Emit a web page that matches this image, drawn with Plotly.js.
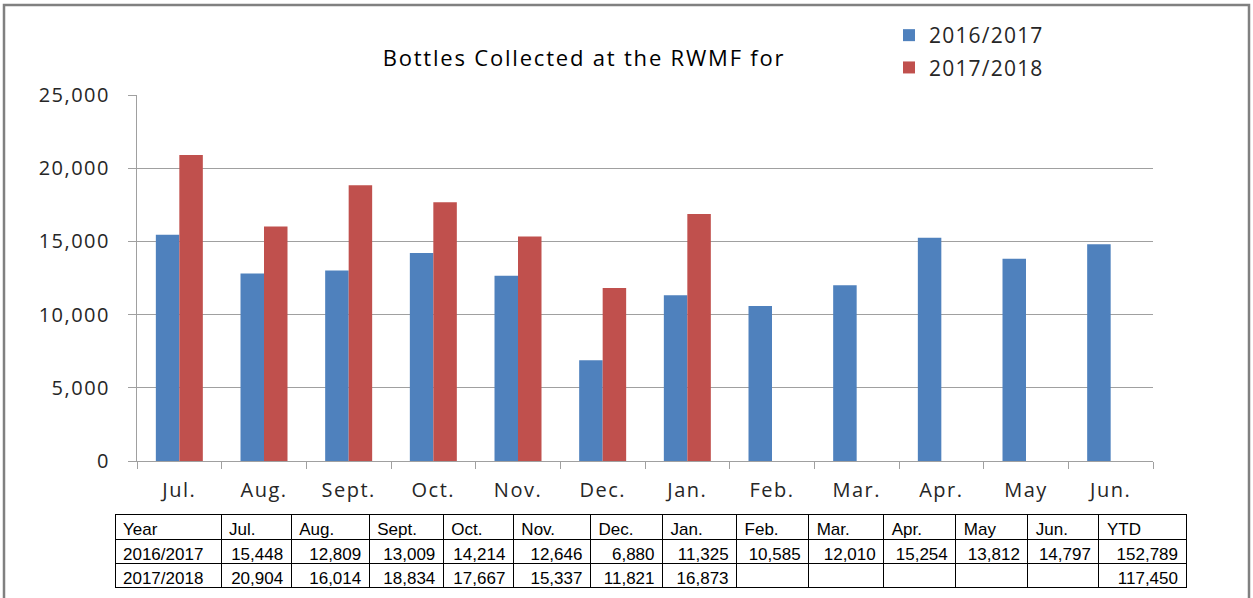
<!DOCTYPE html>
<html>
<head>
<meta charset="utf-8">
<script src="https://cdn.plot.ly/plotly-3.0.1.min.js"></script>
<style>
html,body{margin:0;padding:0;background:#fff;}
#chart{width:1253px;height:598px;}
.gtitle{letter-spacing:1.8px;}
g.xtick text, g.ytick text{letter-spacing:1.5px;}
.legendtext{letter-spacing:1.2px;}
</style>
</head>
<body>
<div id="chart"></div>
<script>
const months = ['Jul.', 'Aug.', 'Sept.', 'Oct.', 'Nov.', 'Dec.', 'Jan.', 'Feb.', 'Mar.', 'Apr.', 'May', 'Jun.'];
const seriesNames = ['2016/2017', '2017/2018'];
const values1617 = [15448, 12809, 13009, 14214, 12646, 6880, 11325, 10585, 12010, 15254, 13812, 14797];
const values1718 = [20904, 16014, 18834, 17667, 15337, 11821, 16873];
const ytd = [152789, 117450];
const yTicks = [0, 5000, 10000, 15000, 20000, 25000];
const yTickLabels = ['0', '5,000', '10,000', '15,000', '20,000', '25,000'];
const chartTitle = 'Bottles Collected at the RWMF for';

const W = 1253, H = 598;
const px = x => x / W;
const py = y => (H - y) / H;

const fmt = v => (v === undefined || v === null) ? '' : v.toLocaleString('en-US');

const headerVals = ['Year'].concat(months).concat(['YTD']);
const cellCols = [seriesNames];
months.forEach((m, i) => cellCols.push([fmt(values1617[i]), fmt(values1718[i])]));
cellCols.push([fmt(ytd[0]), fmt(ytd[1])]);

const colWidths = [106, 70, 78, 74, 70, 77, 72, 74, 72, 75, 72, 72, 71, 87];
const cellAlign = ['left'].concat(months.map(() => 'right')).concat(['right']);

const tableFont = {family: 'Liberation Sans, Arial, sans-serif', size: 17, color: '#000'};
const axisFont = {family: 'Open Sans, sans-serif', size: 20, color: '#262626'};

const data = [
  {type: 'bar', name: seriesNames[0], legendgroup: 'a', x: months, y: values1617, marker: {color: '#4F81BD'}, hoverinfo: 'x+y'},
  {type: 'bar', name: seriesNames[1], legendgroup: 'b', x: months.slice(0, values1718.length), y: values1718, marker: {color: '#C0504D'}, hoverinfo: 'x+y'},
  {
    type: 'table',
    domain: {x: [px(115), px(1186)], y: [0, py(514)]},
    columnwidth: colWidths,
    header: {
      values: headerVals,
      align: 'left',
      height: 25,
      font: tableFont,
      fill: {color: '#fff'},
      line: {color: '#000', width: 1}
    },
    cells: {
      values: cellCols,
      align: cellAlign,
      height: 24,
      font: tableFont,
      fill: {color: '#fff'},
      line: {color: '#000', width: 1}
    }
  }
];

const layout = {
  width: W, height: H, autosize: false,
  margin: {l: 0, r: 0, t: 0, b: 0},
  paper_bgcolor: '#fff', plot_bgcolor: '#fff',
  barmode: 'group', bargap: 0.445, bargroupgap: 0,
  title: {text: chartTitle, x: px(584), xanchor: 'center', y: py(58), yanchor: 'middle', font: {family: 'Open Sans, sans-serif', size: 22, color: '#000'}},
  showlegend: true,
  legend: {x: px(889), xanchor: 'left', y: py(15), yanchor: 'top', tracegroupgap: 2, font: {family: 'Open Sans, sans-serif', size: 21, color: '#262626'}, bgcolor: 'rgba(0,0,0,0)', traceorder: 'grouped'},
  xaxis: {
    domain: [px(137), px(1153)],
    type: 'category',
    showline: true, linecolor: '#A0A0A0', linewidth: 1,
    ticks: 'outside', tickson: 'boundaries', ticklen: 7, tickcolor: '#A0A0A0',
    tickfont: axisFont, ticklabelstandoff: 11,
    showgrid: false, fixedrange: true
  },
  yaxis: {
    domain: [py(461), py(95)],
    range: [0, 25000],
    tickvals: yTicks, ticktext: yTickLabels,
    showline: true, linecolor: '#A0A0A0', linewidth: 1,
    ticks: 'outside', ticklen: 8, tickcolor: '#A0A0A0',
    showgrid: true, gridcolor: '#A0A0A0', gridwidth: 1,
    zeroline: false,
    tickfont: axisFont, ticklabelstandoff: 14, fixedrange: true
  },
  shapes: [
    {type: 'rect', xref: 'paper', yref: 'paper', x0: px(4), x1: px(1249), y0: -0.05, y1: py(5), line: {color: '#808080', width: 2.5}, fillcolor: 'rgba(0,0,0,0)', layer: 'below'}
  ]
};

Plotly.newPlot('chart', data, layout, {displayModeBar: false, staticPlot: false});
</script>
</body>
</html>
